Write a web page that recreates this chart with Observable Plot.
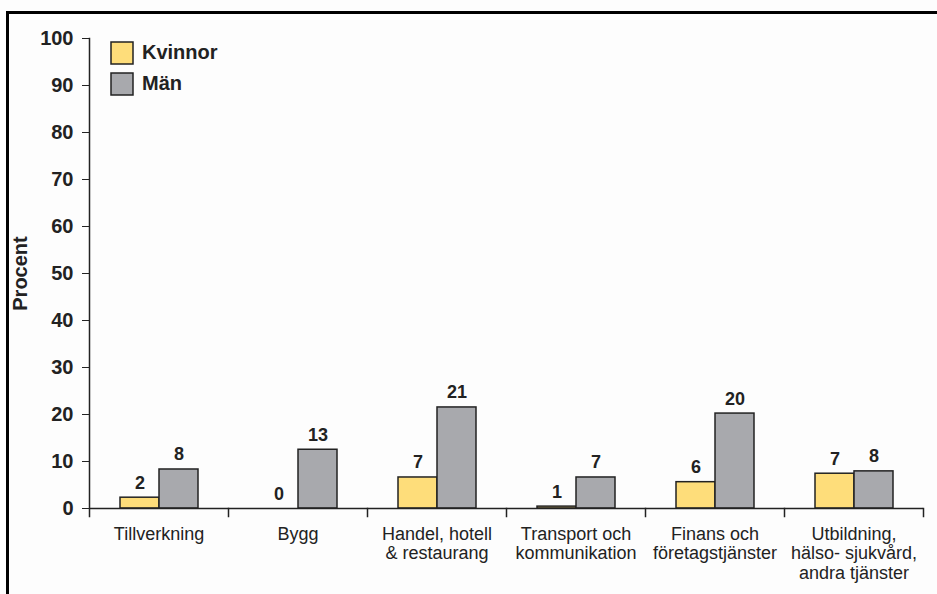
<!DOCTYPE html>
<html><head><meta charset="utf-8">
<script src="https://cdn.jsdelivr.net/npm/d3@7"></script>
<script src="https://cdn.jsdelivr.net/npm/@observablehq/plot@0.6"></script>
<style>
body{margin:0;background:#fdfdfd;font-family:"Liberation Sans",Arial,sans-serif}
#wrap{position:relative;width:937px;height:594px;overflow:hidden;background:#fdfdfd}
#border{position:absolute;left:6px;top:11px;right:-10px;bottom:-10px;border-top:3px solid #000;border-left:3px solid #000;pointer-events:none}
#legend{position:absolute;left:111px;top:41px}
#legend > div > div{padding-bottom:8px}
#legend svg{overflow:visible;margin-right:9px}
#legend svg rect{stroke:#222;stroke-width:1.5px}
</style></head><body>
<div id="wrap"><div id="chart"></div><div id="legend"></div><div id="border"></div></div>
<script>
const categories = ["Tillverkning", "Bygg", "Handel, hotell\n& restaurang", "Transport och\nkommunikation", "Finans och\nföretagstjänster", "Utbildning,\nhälso- sjukvård,\nandra tjänster"];
const series = ["Kvinnor", "Män"];
const kvinnor = [2.3, 0, 6.6, 0.4, 5.6, 7.4];
const man = [8.3, 12.5, 21.5, 6.6, 20.2, 7.9];
const kvinnorLabels = ["2", "0", "7", "1", "6", "7"];
const manLabels = ["8", "13", "21", "7", "20", "8"];
const yTicks = [0, 10, 20, 30, 40, 50, 60, 70, 80, 90, 100];
const colors = ["#fedd7a", "#a8a9ad"];

const data = categories.flatMap((c, i) => [
  {category: c, series: "Kvinnor", value: kvinnor[i], label: kvinnorLabels[i]},
  {category: c, series: "Män", value: man[i], label: manLabels[i]}
]);

const W = 937, H = 594, mt = 38, mb = 86, ml = 88, mr = 13;
const ink = "#222";
const font = "'Liberation Sans', Arial, sans-serif";

const plot = Plot.plot({
  width: W, height: H,
  marginTop: mt, marginBottom: mb, marginLeft: ml, marginRight: mr,
  style: {background: "transparent", fontFamily: font, color: ink},
  fx: {domain: categories, padding: 0, label: null},
  x: {domain: series, paddingInner: 0, paddingOuter: 0.78, axis: null},
  y: {domain: [0, 100]},
  color: {domain: series, range: colors},
  marks: [
    Plot.axisY({ticks: yTicks, tickSize: 7, tickPadding: 9, fontSize: 20, fontWeight: "bold",
      label: "Procent", labelAnchor: "center", labelArrow: "none", labelOffset: 77, stroke: ink}),
    Plot.axisFx({anchor: "bottom", tickSize: 0, tickPadding: 17, fontSize: 18, lineHeight: 1.1, label: null}),
    Plot.barY(data, {fx: "category", x: "series", y: "value", fill: "series", stroke: ink, strokeWidth: 1.5}),
    Plot.text(data, {fx: "category", x: "series", y: "value", text: "label", lineAnchor: "bottom", dy: -9,
      fontSize: 18, fontWeight: "bold", fill: ink}),
    Plot.ruleY([0], {stroke: ink, strokeWidth: 1.5}),
    Plot.frame({anchor: "left", facetAnchor: "left", insetBottom: -8, stroke: ink, strokeWidth: 1.5}),
    Plot.frame({anchor: "right", insetTop: H - mt - mb, insetBottom: -8, stroke: ink, strokeWidth: 1.5})
  ]
});
document.getElementById("chart").appendChild(plot);

const leg = plot.legend("color", {swatchSize: 22, columns: 1,
  style: {fontSize: "20px", fontFamily: font, fontWeight: "bold", color: ink}});
document.getElementById("legend").appendChild(leg);
</script>
</body></html>
